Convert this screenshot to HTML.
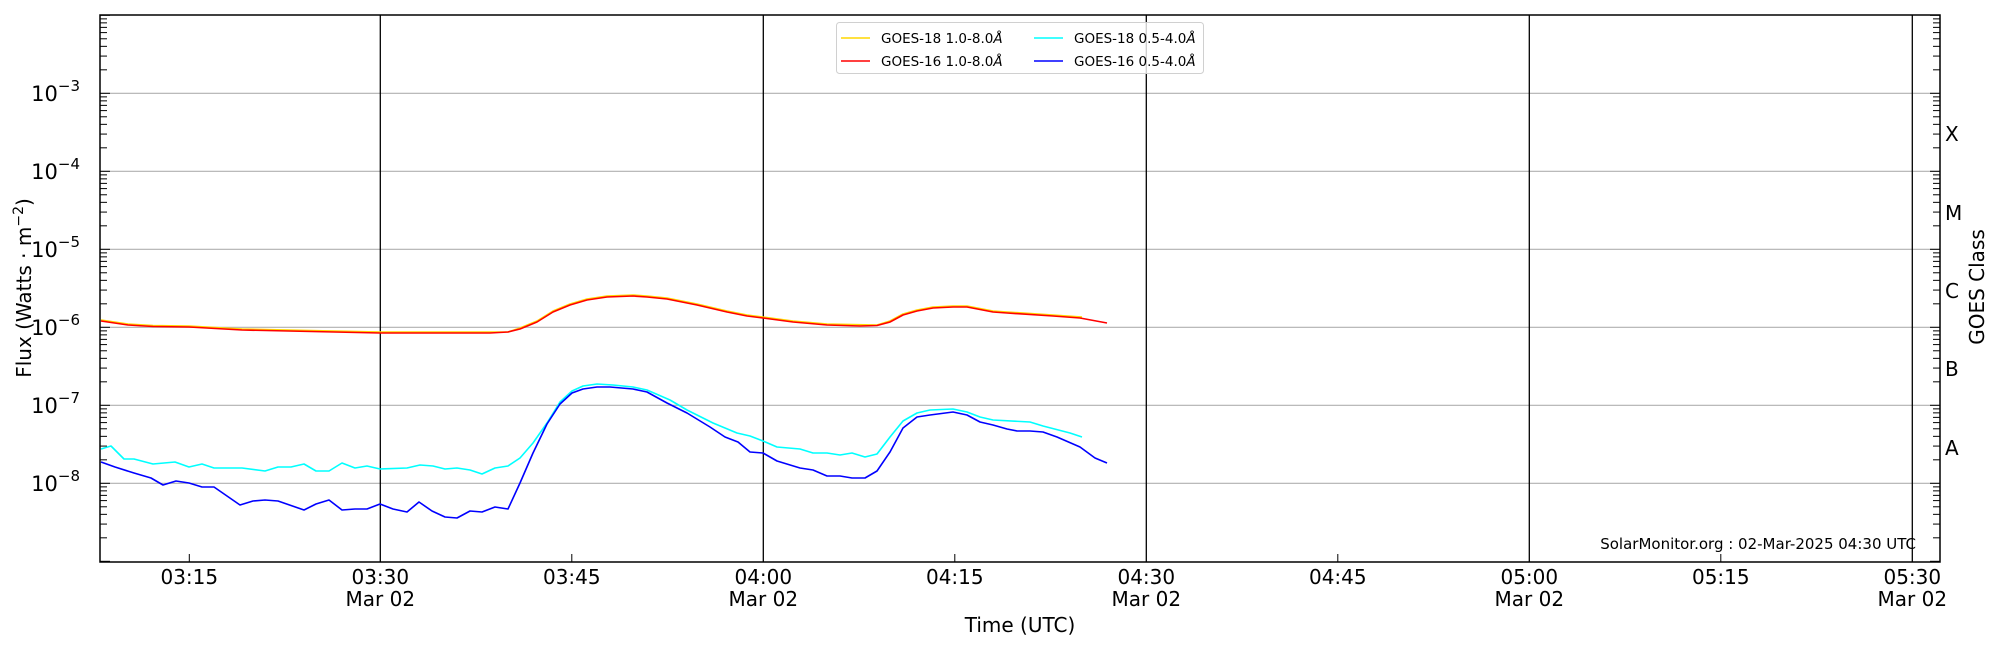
<!DOCTYPE html>
<html><head><meta charset="utf-8"><style>
body{margin:0;background:#fff;}
svg text{font-family:"DejaVu Sans","Liberation Sans",sans-serif;fill:#000;}
</style></head><body>
<svg width="2000" height="650" viewBox="0 0 2000 650" xmlns="http://www.w3.org/2000/svg">
<defs>
<g id="decL" stroke="#000" stroke-width="1">
<line x1="100" y1="0" x2="110" y2="0"/>
<line x1="100" y1="-23.48" x2="107" y2="-23.48"/>
<line x1="100" y1="-37.22" x2="107" y2="-37.22"/>
<line x1="100" y1="-46.96" x2="107" y2="-46.96"/>
<line x1="100" y1="-54.52" x2="107" y2="-54.52"/>
<line x1="100" y1="-60.70" x2="107" y2="-60.70"/>
<line x1="100" y1="-65.92" x2="107" y2="-65.92"/>
<line x1="100" y1="-70.44" x2="107" y2="-70.44"/>
<line x1="100" y1="-74.43" x2="107" y2="-74.43"/>
<line x1="1940" y1="0" x2="1930" y2="0"/>
<line x1="1940" y1="-23.48" x2="1933" y2="-23.48"/>
<line x1="1940" y1="-37.22" x2="1933" y2="-37.22"/>
<line x1="1940" y1="-46.96" x2="1933" y2="-46.96"/>
<line x1="1940" y1="-54.52" x2="1933" y2="-54.52"/>
<line x1="1940" y1="-60.70" x2="1933" y2="-60.70"/>
<line x1="1940" y1="-65.92" x2="1933" y2="-65.92"/>
<line x1="1940" y1="-70.44" x2="1933" y2="-70.44"/>
<line x1="1940" y1="-74.43" x2="1933" y2="-74.43"/>
</g>
</defs>
<rect width="2000" height="650" fill="#fff"/>
<g stroke="#b0b0b0" stroke-width="1.2">
<line x1="100" y1="93.3" x2="1940" y2="93.3"/>
<line x1="100" y1="171.3" x2="1940" y2="171.3"/>
<line x1="100" y1="249.3" x2="1940" y2="249.3"/>
<line x1="100" y1="327.3" x2="1940" y2="327.3"/>
<line x1="100" y1="405.3" x2="1940" y2="405.3"/>
<line x1="100" y1="483.3" x2="1940" y2="483.3"/>
</g>
<g stroke="#000" stroke-width="1.3">
<line x1="380.3" y1="15" x2="380.3" y2="562"/>
<line x1="763.3" y1="15" x2="763.3" y2="562"/>
<line x1="1146.3" y1="15" x2="1146.3" y2="562"/>
<line x1="1529.3" y1="15" x2="1529.3" y2="562"/>
<line x1="1912.3" y1="15" x2="1912.3" y2="562"/>
</g>
<use href="#decL" transform="translate(0,561.3)"/>
<use href="#decL" transform="translate(0,483.3)"/>
<use href="#decL" transform="translate(0,405.3)"/>
<use href="#decL" transform="translate(0,327.3)"/>
<use href="#decL" transform="translate(0,249.3)"/>
<use href="#decL" transform="translate(0,171.3)"/>
<use href="#decL" transform="translate(0,93.3)"/>
<g stroke="#000" stroke-width="1">
<line x1="100" y1="15.3" x2="110" y2="15.3"/><line x1="1940" y1="15.3" x2="1930" y2="15.3"/>
<line x1="189.3" y1="562" x2="189.3" y2="554"/>
<line x1="571.8" y1="562" x2="571.8" y2="554"/>
<line x1="954.8" y1="562" x2="954.8" y2="554"/>
<line x1="1337.8" y1="562" x2="1337.8" y2="554"/>
<line x1="1720.8" y1="562" x2="1720.8" y2="554"/>
</g>
<g fill="none" stroke-width="1.6" stroke-linejoin="round">
<polyline stroke="#ffd700" points="101,320 128,324 153,325.5 189,326 242,329 380,332 508,332 520,328 537,321 553,311 570,304 587,299 607,296 633,295 647,296 667,298 697,304 727,311 747,315 763,317 793,321 827,324 877,325 890,321 903,314 917,310 933,307 953,306 967,306 993,311 1007,312 1053,315 1082,317"/>
<polyline stroke="#ff0000" points="101,321 128,325 153,326.5 189,327 242,330 380,333 490,333 508,332 520,329 537,322 553,312 570,305 587,300 607,297 633,296 647,297 667,299 697,305 727,312 747,316 763,318 793,322 827,325 860,326 877,325.5 890,322 903,315 917,311 933,308 953,307 967,307 993,312 1007,313 1053,316 1080,318 1107,323"/>
<polyline stroke="#00ffff" points="101,449 111,446 124,459 134,459 153,464 175,462 189,467 202,464 214,468 242,468 265,471 278,467 291,467 304,464 316,471 329,471 342,463 355,468 367,466 380,469 407,468 420,465 433,466 445,469 457,468 470,470 482,474 495,468 508,466 520,458 533,443 547,423 560,402 572,391 583,386 597,384 613,385 633,387 647,390 670,400 687,410 713,423 737,433 750,436 763,441 777,447 800,449 813,453 827,453 840,455 852,453 865,457 877,454 890,437 903,421 917,413 930,410 953,409 967,412 980,417 993,420 1030,422 1043,426 1070,433 1082,437"/>
<polyline stroke="#0000ff" points="101,462 115,467 134,473 151,478 163,485 176,481 189,483 202,487 214,487 240,505 253,501 265,500 278,501 304,510 316,504 329,500 342,510 355,509 367,509 380,504 393,509 407,512 419,502 432,511 445,517 457,518 470,511 482,512 495,507 508,509 520,483 533,453 547,424 560,404 572,393 583,389 597,387 610,387 633,389 647,392 667,403 687,413 710,427 725,437 738,442 750,452 763,453 777,461 800,468 813,470 827,476 840,476 852,478 865,478 877,471 890,452 903,428 917,417 930,415 953,412 967,415 980,422 993,425 1007,429 1017,431 1030,431 1043,432 1057,437 1080,447 1095,458 1107,463"/>
</g>
<rect x="100" y="15" width="1840" height="547" fill="none" stroke="#000" stroke-width="1.5"/>
<rect x="836.5" y="22.5" width="367" height="51" rx="3" fill="#fff" fill-opacity="0.8" stroke="#d0d0d0" stroke-width="1"/>
<g stroke-width="1.5">
<line x1="841" y1="38" x2="870" y2="38" stroke="#ffd700"/>
<line x1="841" y1="61" x2="870" y2="61" stroke="#ff0000"/>
<line x1="1034" y1="38" x2="1063" y2="38" stroke="#00ffff"/>
<line x1="1034" y1="61" x2="1063" y2="61" stroke="#0000ff"/>
</g>
<g font-size="13.5">
<text x="881" y="43">GOES-18 1.0-8.0<tspan font-style="italic">Å</tspan></text>
<text x="881" y="66">GOES-16 1.0-8.0<tspan font-style="italic">Å</tspan></text>
<text x="1074" y="43">GOES-18 0.5-4.0<tspan font-style="italic">Å</tspan></text>
<text x="1074" y="66">GOES-16 0.5-4.0<tspan font-style="italic">Å</tspan></text>
</g>
<g font-size="21" text-anchor="end">
<text x="80" y="101">10<tspan font-size="15" dy="-10">−3</tspan></text>
<text x="80" y="179">10<tspan font-size="15" dy="-10">−4</tspan></text>
<text x="80" y="257">10<tspan font-size="15" dy="-10">−5</tspan></text>
<text x="80" y="335">10<tspan font-size="15" dy="-10">−6</tspan></text>
<text x="80" y="413">10<tspan font-size="15" dy="-10">−7</tspan></text>
<text x="80" y="491">10<tspan font-size="15" dy="-10">−8</tspan></text>
</g>
<g font-size="20">
<text x="1945" y="141">X</text>
<text x="1945" y="220">M</text>
<text x="1945" y="298">C</text>
<text x="1945" y="376">B</text>
<text x="1945" y="455">A</text>
</g>
<g font-size="20" text-anchor="middle">
<text x="189.3" y="584">03:15</text>
<text x="380.3" y="584">03:30</text><text x="380.3" y="606">Mar 02</text>
<text x="571.8" y="584">03:45</text>
<text x="763.3" y="584">04:00</text><text x="763.3" y="606">Mar 02</text>
<text x="954.8" y="584">04:15</text>
<text x="1146.3" y="584">04:30</text><text x="1146.3" y="606">Mar 02</text>
<text x="1337.8" y="584">04:45</text>
<text x="1529.3" y="584">05:00</text><text x="1529.3" y="606">Mar 02</text>
<text x="1720.8" y="584">05:15</text>
<text x="1912.3" y="584">05:30</text><text x="1912.3" y="606">Mar 02</text>
<text x="1020" y="632">Time (UTC)</text>
<text transform="translate(31,288) rotate(-90)">Flux (Watts · m<tspan font-size="14" dy="-8">−2</tspan><tspan dy="8">)</tspan></text>
<text transform="translate(1984,287) rotate(-90)">GOES Class</text>
</g>
<text x="1916" y="549" font-size="15" text-anchor="end">SolarMonitor.org : 02-Mar-2025 04:30 UTC</text>
</svg>
</body></html>
